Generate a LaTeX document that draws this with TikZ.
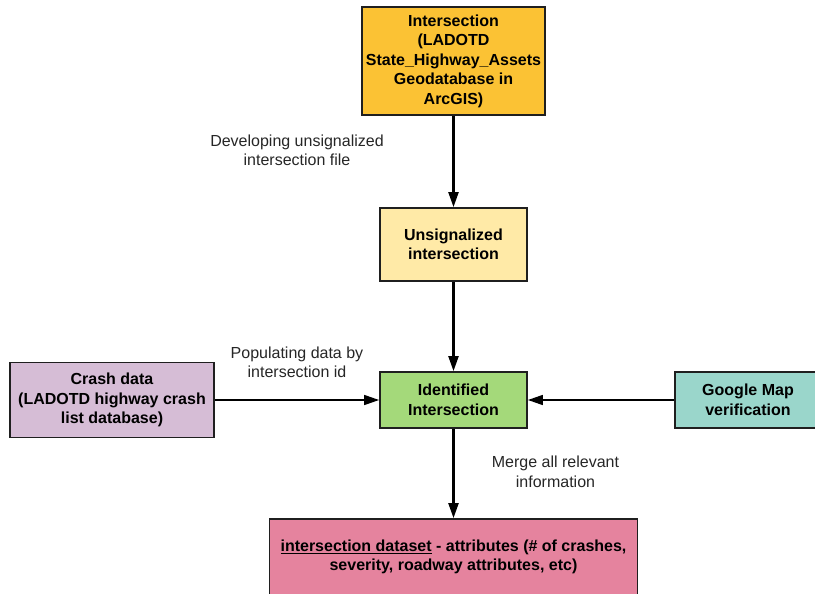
\documentclass[tikz,border=0pt]{standalone}
\usepackage{fontspec}
\setmainfont{Liberation Sans}
\usetikzlibrary{arrows.meta}

\definecolor{srcorange}{RGB}{251,194,52}
\definecolor{unsigyellow}{RGB}{255,234,167}
\definecolor{idgreen}{RGB}{164,217,122}
\definecolor{crashpurple}{RGB}{214,189,214}
\definecolor{mapteal}{RGB}{154,214,203}
\definecolor{datapink}{RGB}{229,131,158}

\begin{document}
\begin{tikzpicture}[x=1pt, y=-1pt,
  box/.style={draw=black!88, line width=1.8pt, align=center, inner sep=0pt,
    font=\bfseries\fontsize{16}{19.5}\selectfont},
  note/.style={align=center, text=black!85, font=\fontsize{16}{19.5}\selectfont},
  flow/.style={-{Triangle[length=15pt,width=10pt]}, line width=2.2pt}]

\clip (0,0) rectangle (815,594);

\node[box, fill=srcorange, minimum width=183pt, minimum height=108pt] (S) at (453.5,61)
  {Intersection\\(LADOTD\\State\_Highway\_Assets\\Geodatabase in\\ArcGIS)};
\node[box, fill=unsigyellow, minimum width=147pt, minimum height=73pt] (U) at (453.5,244.5)
  {Unsignalized\\intersection};
\node[box, fill=idgreen, minimum width=147pt, minimum height=56pt] (I) at (453.5,400)
  {Identified\\Intersection};
\node[box, fill=crashpurple, minimum width=204pt, minimum height=75pt] (C) at (112,400)
  {Crash data\\(LADOTD highway crash\\list database)};
\node[box, fill=mapteal, minimum width=146pt, minimum height=56pt] (G) at (748,400)
  {Google Map\\verification};
\node[box, fill=datapink, minimum width=368pt, minimum height=76pt] (D) at (453.5,557)
  {\underline{intersection dataset} - attributes (\# of crashes,\\severity, roadway attributes, etc)};

\node[note] (dev) at (297,150.5) {Developing unsignalized\\intersection file};
\node[note] (pop) at (297,362.5) {Populating data by\\intersection id};
\node[note] (mrg) at (555.5,472) {Merge all relevant\\information};

\draw[flow] (S) to (U);
\draw[flow] (U) to (I);
\draw[flow, line width=1.5pt] (C) to (I);
\draw[flow, line width=1.5pt] (G) to (I);
\draw[flow] (I) to (D);
\end{tikzpicture}
\end{document}
